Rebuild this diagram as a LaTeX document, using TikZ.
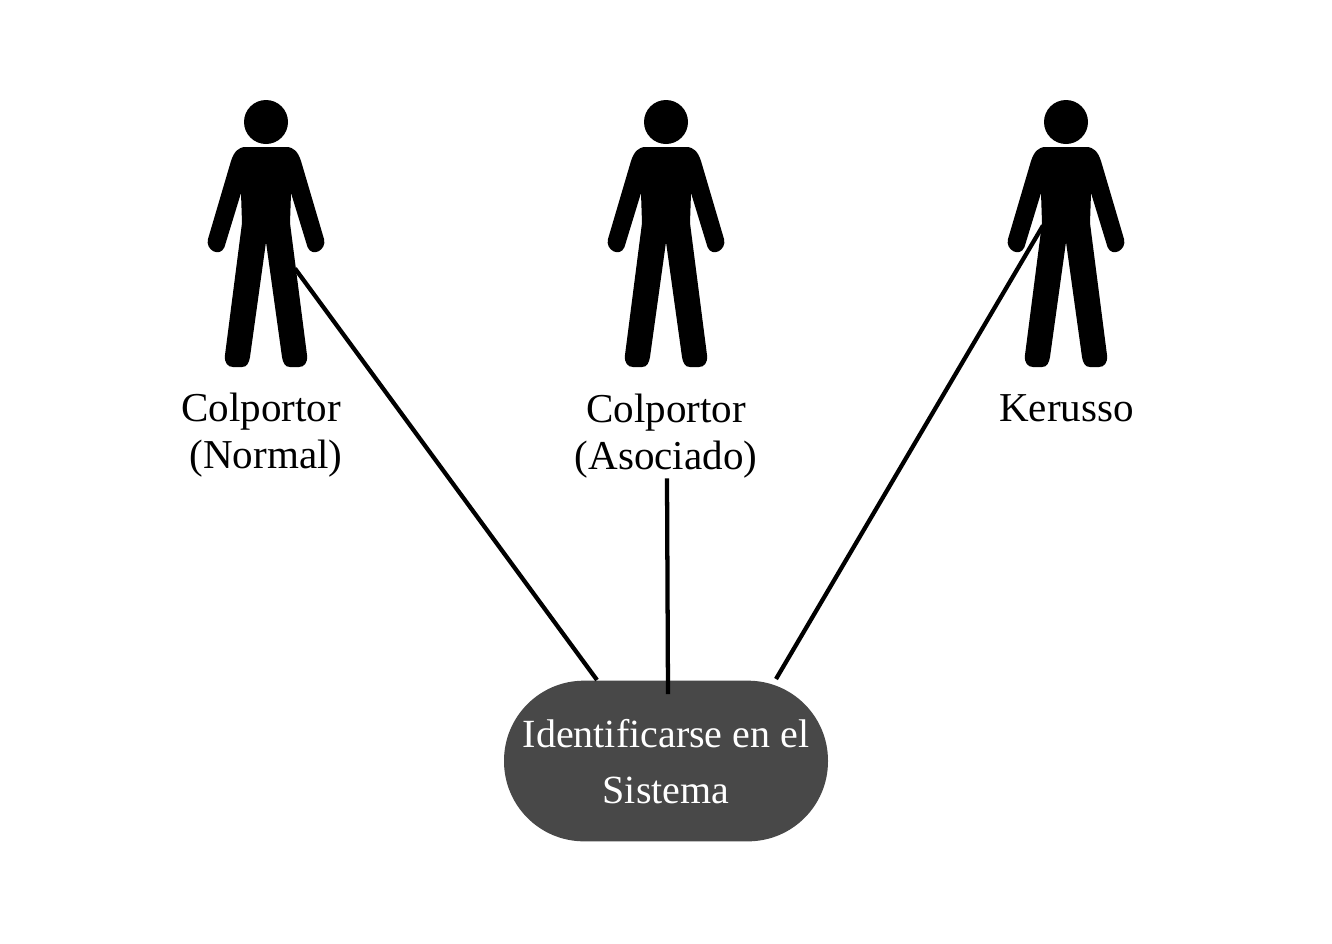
\documentclass[tikz,border=0pt]{standalone}
\usepackage{fontspec}
\setmainfont{Liberation Serif}
\definecolor{pillgrey}{HTML}{484848}
\newcommand{\pillline}[1]{\raisebox{-3.6pt}[0.7em][0.2em]{#1}}
\tikzset{
  actorbox/.style={minimum width=87pt,minimum height=200pt,inner sep=0pt},
  actorlabel/.style={font=\fontsize{30.8}{35.25}\selectfont,align=center,inner sep=0pt,text=black},
  usecase/.style={fill=pillgrey,text=white,rounded corners=60pt,minimum width=243pt,minimum height=120.5pt,inner sep=0pt,align=center,font=\fontsize{30}{42}\selectfont},
  link/.style={line width=3.2pt,draw=black},
  pics/person/.style={code={
    \fill[black] (0,22) circle[radius=22];
    \fill[black] (-20,47) -- (20,47)
      .. controls (28,47) and (32,52) .. (35,61)
      -- (58,139) .. controls (61,150) and (46,158) .. (41.5,147)
      -- (25,93) -- (24,123) -- (41,255)
      .. controls (42,263) and (38,267) .. (33,267)
      -- (24,267) .. controls (19,267) and (17,263) .. (16,257)
      -- (0,142) -- (-16,257)
      .. controls (-17,263) and (-19,267) .. (-24,267)
      -- (-33,267) .. controls (-38,267) and (-42,263) .. (-41,255)
      -- (-24,123) -- (-25,93) -- (-41.5,147)
      .. controls (-46,158) and (-61,150) .. (-58,139)
      -- (-35,61) .. controls (-32,52) and (-28,47) .. (-20,47) -- cycle;
  }}
}
\begin{document}
\begin{tikzpicture}[x=0.75pt,y=-0.75pt]
\useasboundingbox (0,0) rectangle (1332,943);
\pic at (266,100) {person};
\pic at (666,100) {person};
\pic at (1066,100) {person};
\node[actorbox] (actorA) at (266,233.5) {};
\node[actorbox] (actorB) at (666,233.5) {};
\node[actorbox] (actorC) at (1066,233.5) {};
\node[actorlabel] (labelA) at (266,435) {Colportor\hspace*{7.5pt}\\(Normal)};
\node[actorlabel] (labelB) at (666,436) {Colportor\\(Asociado)};
\node[actorlabel,anchor=base] (labelC) at (1066.5,421) {Kerusso};
\node[usecase] (usecase) at (666,761) {\pillline{Identificarse en el}\\\pillline{Sistema}};
\coordinate (fromA) at ([shift={(29,35)}]actorA.center);
\coordinate (fromB) at ([shift={(1,0)}]labelB.south);
\coordinate (fromC) at ([shift={(-23,-8)}]actorC.center);
\coordinate (toA) at ([shift={(-69,-81)}]usecase.center);
\coordinate (toB) at ([shift={(2,-67)}]usecase.center);
\coordinate (toC) at ([shift={(110,-82)}]usecase.center);
\draw[link] (fromA) -- (toA);
\draw[link] (fromB) -- (toB);
\draw[link] (fromC) -- (toC);
\end{tikzpicture}
\end{document}
